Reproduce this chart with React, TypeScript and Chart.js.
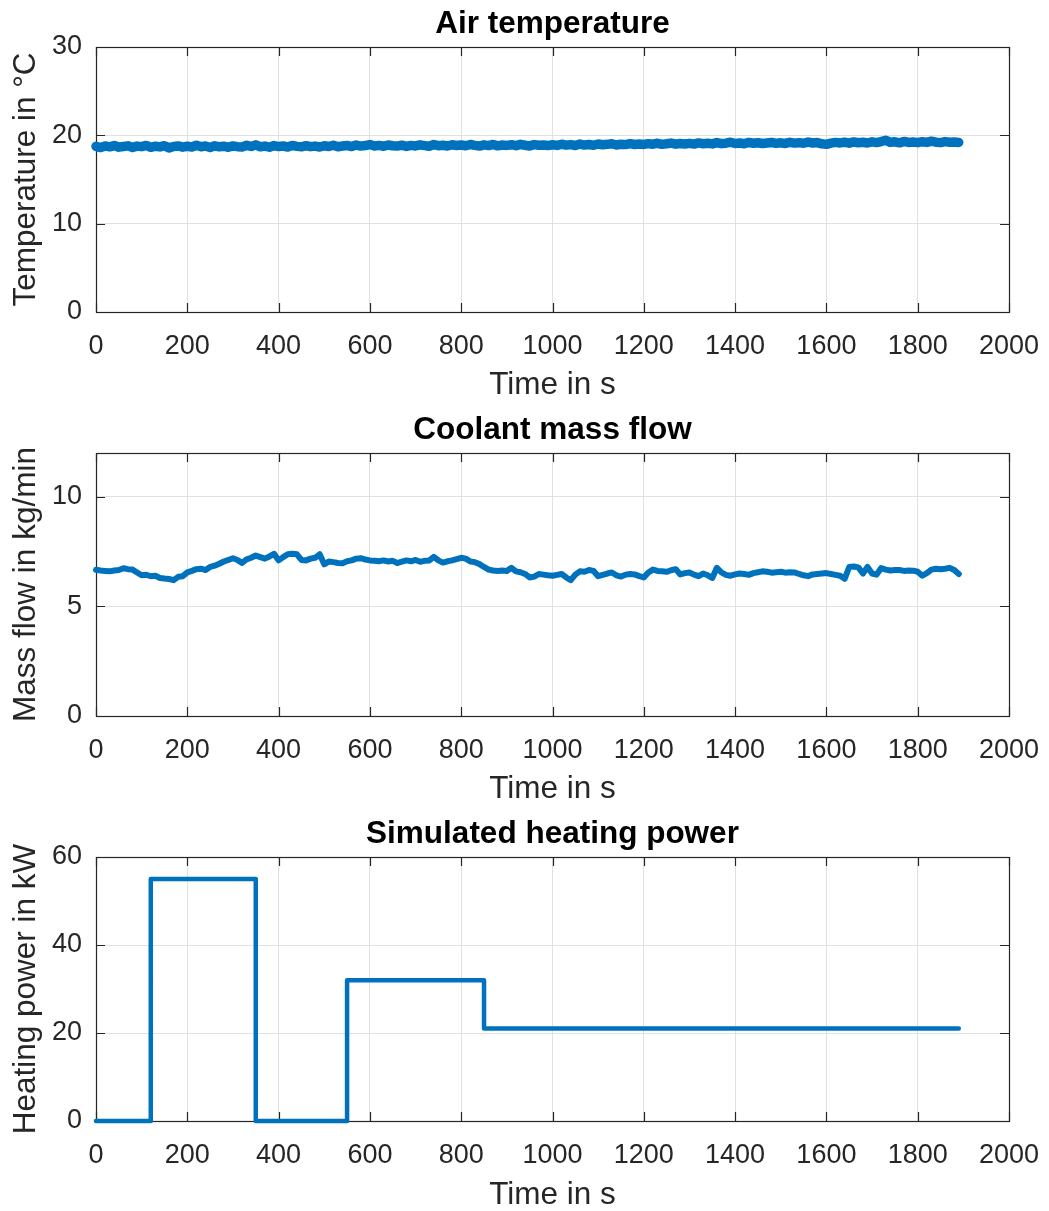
import React, { useEffect, useRef } from 'react';
import { Chart, registerables } from 'chart.js';

Chart.register(...registerables);

const FONT = '"Liberation Sans", Arial, Helvetica, sans-serif';
const INK = '#262626';
const GRID = '#e1e1e1';
const BLUE = '#0072BD';

// ---------- data ----------
const xTickValues = [0, 200, 400, 600, 800, 1000, 1200, 1400, 1600, 1800, 2000];
const tempTickValues = [0, 10, 20, 30];
const flowTickValues = [0, 5, 10];
const powerTickValues = [0, 20, 40, 60];

const sampleTimes = [
  0, 10, 20, 30, 40, 50, 60, 70, 80, 90,
  100, 110, 120, 130, 140, 150, 160, 170, 180, 190,
  200, 210, 220, 230, 240, 250, 260, 270, 280, 290,
  300, 310, 320, 330, 340, 350, 360, 370, 380, 390,
  400, 410, 420, 430, 440, 450, 460, 470, 480, 490,
  500, 510, 520, 530, 540, 550, 560, 570, 580, 590,
  600, 610, 620, 630, 640, 650, 660, 670, 680, 690,
  700, 710, 720, 730, 740, 750, 760, 770, 780, 790,
  800, 810, 820, 830, 840, 850, 860, 870, 880, 890,
  900, 910, 920, 930, 940, 950, 960, 970, 980, 990,
  1000, 1010, 1020, 1030, 1040, 1050, 1060, 1070, 1080, 1090,
  1100, 1110, 1120, 1130, 1140, 1150, 1160, 1170, 1180, 1190,
  1200, 1210, 1220, 1230, 1240, 1250, 1260, 1270, 1280, 1290,
  1300, 1310, 1320, 1330, 1340, 1350, 1360, 1370, 1380, 1390,
  1400, 1410, 1420, 1430, 1440, 1450, 1460, 1470, 1480, 1490,
  1500, 1510, 1520, 1530, 1540, 1550, 1560, 1570, 1580, 1590,
  1600, 1610, 1620, 1630, 1640, 1650, 1660, 1670, 1680, 1690,
  1700, 1710, 1720, 1730, 1740, 1750, 1760, 1770, 1780, 1790,
  1800, 1810, 1820, 1830, 1840, 1850, 1860, 1870, 1880, 1890,
];

const airTemperature = [
  18.75, 18.62, 18.80, 18.70, 18.85, 18.66, 18.74, 18.81, 18.63, 18.78,
  18.72, 18.86, 18.64, 18.77, 18.69, 18.83, 18.58, 18.74, 18.80, 18.66,
  18.76, 18.68, 18.88, 18.71, 18.79, 18.63, 18.82, 18.70, 18.77, 18.65,
  18.80, 18.72, 18.69, 18.87, 18.74, 18.92, 18.70, 18.78, 18.66, 18.84,
  18.73, 18.80, 18.67, 18.86, 18.75, 18.70, 18.83, 18.72, 18.78, 18.68,
  18.82, 18.74, 18.88, 18.71, 18.79, 18.85, 18.73, 18.90, 18.78, 18.84,
  18.96, 18.80, 18.86, 18.76, 18.91, 18.82, 18.78, 18.89, 18.75, 18.86,
  18.80, 18.92, 18.84, 18.77, 18.95, 18.83, 18.88, 18.79, 18.93, 18.85,
  18.90, 18.82, 18.96, 18.86, 18.78, 18.92, 18.84, 18.97, 18.81, 18.90,
  18.86, 18.94, 18.83, 18.98, 18.88, 18.80, 18.95, 18.87, 18.91, 18.84,
  18.93, 18.86, 18.99, 18.89, 18.95, 18.85, 19.01, 18.90, 18.96, 18.88,
  19.02, 18.93, 18.98, 19.05, 18.91, 19.00, 18.95, 19.07, 18.96, 19.01,
  18.97, 19.06, 19.00, 19.10, 18.98, 19.04, 19.12, 19.00, 19.07, 19.02,
  19.09, 19.01, 19.14, 19.05, 19.10, 19.03, 19.18, 19.06, 19.11, 19.22,
  19.08, 19.14, 19.05, 19.20, 19.10, 19.16, 19.07, 19.13, 19.19, 19.09,
  19.15, 19.08, 19.21, 19.12, 19.17, 19.10, 19.24, 19.13, 19.18, 19.04,
  18.98, 19.12, 19.20, 19.14, 19.22, 19.11, 19.25, 19.16, 19.21, 19.13,
  19.26, 19.18, 19.30, 19.45, 19.20, 19.27, 19.15, 19.31, 19.19, 19.24,
  19.17, 19.28, 19.20, 19.34, 19.22, 19.18, 19.29, 19.21, 19.25, 19.20,
];

const coolantMassFlow = [
  6.67, 6.64, 6.62, 6.60, 6.64, 6.66, 6.74, 6.70, 6.68, 6.55,
  6.42, 6.44, 6.38, 6.40, 6.30, 6.27, 6.25, 6.20, 6.35, 6.38,
  6.55, 6.62, 6.70, 6.72, 6.66, 6.80, 6.86, 6.95, 7.05, 7.12,
  7.20, 7.12, 6.98, 7.15, 7.22, 7.32, 7.25, 7.18, 7.28, 7.40,
  7.10, 7.25, 7.38, 7.40, 7.38, 7.12, 7.10, 7.18, 7.22, 7.38,
  6.92, 7.05, 7.02, 6.98, 6.97, 7.06, 7.10, 7.18, 7.20, 7.14,
  7.10, 7.08, 7.06, 7.10, 7.05, 7.08, 6.98, 7.04, 7.10, 7.06,
  7.12, 7.04, 7.08, 7.10, 7.26, 7.10, 7.00, 7.06, 7.10, 7.16,
  7.22, 7.18, 7.05, 7.02, 6.93, 6.80, 6.68, 6.64, 6.62, 6.64,
  6.62, 6.76, 6.60, 6.56, 6.48, 6.32, 6.36, 6.48, 6.45, 6.42,
  6.40, 6.44, 6.48, 6.32, 6.20, 6.45, 6.60, 6.58, 6.66, 6.62,
  6.38, 6.44, 6.50, 6.55, 6.42, 6.36, 6.45, 6.48, 6.46, 6.38,
  6.32, 6.55, 6.68, 6.62, 6.60, 6.58, 6.65, 6.70, 6.46, 6.52,
  6.55, 6.45, 6.38, 6.50, 6.42, 6.30, 6.76, 6.55, 6.44, 6.40,
  6.46, 6.50, 6.48, 6.44, 6.52, 6.56, 6.60, 6.58, 6.54, 6.56,
  6.58, 6.54, 6.56, 6.55, 6.48, 6.42, 6.38, 6.46, 6.48, 6.50,
  6.52, 6.48, 6.44, 6.40, 6.26, 6.80, 6.82, 6.78, 6.50, 6.80,
  6.50, 6.45, 6.75, 6.68, 6.64, 6.66, 6.66, 6.62, 6.64, 6.63,
  6.58, 6.40, 6.52, 6.68, 6.72, 6.70, 6.72, 6.76, 6.66, 6.48,
];

const powerTimes = [0, 120, 120, 350, 350, 550, 550, 850, 850, 1890];
const heatingPower = [0, 0, 55, 55, 0, 0, 32, 32, 21, 21];

// ---------- MATLAB-like box with inward ticks ----------
const matlabAxes = {
  id: 'matlabAxes',
  beforeDatasetsDraw(chart: any) {
    const { ctx, chartArea, scales } = chart;
    const { left, right, top, bottom } = chartArea;
    const xs = scales.x;
    const ys = scales.y;
    const L = 9;
    ctx.save();
    ctx.strokeStyle = INK;
    ctx.lineWidth = 1.2;
    ctx.beginPath();
    xs.ticks.forEach((t: any) => {
      const px = Math.round(xs.getPixelForValue(t.value)) + 0.5;
      ctx.moveTo(px, bottom);
      ctx.lineTo(px, bottom - L);
      ctx.moveTo(px, top);
      ctx.lineTo(px, top + L);
    });
    ys.ticks.forEach((t: any) => {
      const py = Math.round(ys.getPixelForValue(t.value)) + 0.5;
      ctx.moveTo(left, py);
      ctx.lineTo(left + L, py);
      ctx.moveTo(right, py);
      ctx.lineTo(right - L, py);
    });
    ctx.stroke();
    ctx.strokeRect(Math.round(left) + 0.5, Math.round(top) + 0.5, Math.round(right - left), Math.round(bottom - top));
    ctx.restore();
  },
};

type PlotSpec = {
  title: string;
  yLabel: string;
  xs: number[];
  ys: number[];
  yMin: number;
  yMax: number;
  yTicks: number[];
  lineWidth: number;
  height: number;
  titlePadTop: number;
  titlePadBottom: number;
  xAxisHeight: number;
  xTitlePadBottom: number;
};

const TITLE_SIZE = 31.5;
const LABEL_SIZE = 31.5;
const TICK_SIZE = 27;

function makeConfig(p: PlotSpec): any {
  return {
    type: 'line',
    data: {
      datasets: [
        {
          data: p.xs.map((x, i) => ({ x, y: p.ys[i] })),
          borderColor: BLUE,
          backgroundColor: BLUE,
          borderWidth: p.lineWidth,
          pointRadius: 0,
          fill: false,
          tension: 0,
          clip: false,
          borderCapStyle: 'round',
          borderJoinStyle: 'round',
        },
      ],
    },
    options: {
      animation: false,
      responsive: false,
      maintainAspectRatio: false,
      events: [],
      layout: { padding: { left: 0, right: 40, top: 0, bottom: 0 } },
      plugins: {
        legend: { display: false },
        tooltip: { enabled: false },
        title: {
          display: true,
          text: p.title,
          fullSize: false,
          color: '#000000',
          font: { family: FONT, size: TITLE_SIZE, weight: 'bold', lineHeight: 1.2 },
          padding: { top: p.titlePadTop, bottom: p.titlePadBottom },
        },
      },
      scales: {
        x: {
          type: 'linear',
          min: 0,
          max: 2000,
          afterBuildTicks: (s: any) => {
            s.ticks = xTickValues.map((v) => ({ value: v }));
          },
          afterFit: (s: any) => {
            s.height = p.xAxisHeight;
            s.paddingLeft = 0;
            s.paddingRight = 30;
          },
          grid: { color: GRID, lineWidth: 1, drawTicks: false },
          border: { display: false },
          ticks: {
            color: INK,
            font: { family: FONT, size: TICK_SIZE, lineHeight: 1.2 },
            padding: 18,
            maxRotation: 0,
            autoSkip: false,
            callback: (v: any) => String(v),
          },
          title: {
            display: true,
            text: 'Time in s',
            color: INK,
            font: { family: FONT, size: LABEL_SIZE, lineHeight: 1.2 },
            padding: { top: 0, bottom: p.xTitlePadBottom },
          },
        },
        y: {
          type: 'linear',
          min: p.yMin,
          max: p.yMax,
          afterBuildTicks: (s: any) => {
            s.ticks = p.yTicks.map((v) => ({ value: v }));
          },
          afterFit: (s: any) => {
            s.width = 96;
          },
          grid: { color: GRID, lineWidth: 1, drawTicks: false },
          border: { display: false },
          ticks: {
            color: INK,
            font: { family: FONT, size: TICK_SIZE, lineHeight: 1.2 },
            padding: 14,
            autoSkip: false,
            callback: (v: any) => String(v),
          },
          title: {
            display: true,
            text: p.yLabel,
            color: INK,
            font: { family: FONT, size: LABEL_SIZE, lineHeight: 1.2 },
            padding: { top: 7, bottom: 0 },
          },
        },
      },
    },
    plugins: [matlabAxes],
  };
}

function Subplot({ spec, top }: { spec: PlotSpec; top: number }) {
  const ref = useRef<HTMLCanvasElement | null>(null);
  useEffect(() => {
    if (!ref.current) return;
    const chart = new Chart(ref.current, makeConfig(spec));
    return () => chart.destroy();
  }, [spec]);
  return (
    <canvas
      ref={ref}
      width={1049}
      height={spec.height}
      style={{ position: 'absolute', left: 0, top, width: 1049, height: spec.height, display: 'block' }}
    />
  );
}

const specs: PlotSpec[] = [
  {
    title: 'Air temperature',
    yLabel: 'Temperature in °C',
    xs: sampleTimes,
    ys: airTemperature,
    yMin: 0,
    yMax: 30,
    yTicks: tempTickValues,
    lineWidth: 9.5,
    height: 405,
    titlePadTop: 5.5,
    titlePadBottom: 3.7,
    xAxisHeight: 93,
    xTitlePadBottom: 1,
  },
  {
    title: 'Coolant mass flow',
    yLabel: 'Mass flow in kg/min',
    xs: sampleTimes,
    ys: coolantMassFlow,
    yMin: 0,
    yMax: 12,
    yTicks: flowTickValues,
    lineWidth: 6,
    height: 405,
    titlePadTop: 7,
    titlePadBottom: 4.2,
    xAxisHeight: 93,
    xTitlePadBottom: 1,
  },
  {
    title: 'Simulated heating power',
    yLabel: 'Heating power in kW',
    xs: powerTimes,
    ys: heatingPower,
    yMin: 0,
    yMax: 60,
    yTicks: powerTickValues,
    lineWidth: 4.5,
    height: 405,
    titlePadTop: 6.5,
    titlePadBottom: 3.7,
    xAxisHeight: 93,
    xTitlePadBottom: 0,
  },
];

const tops = [0, 404, 809];

export default function App() {
  return (
    <div style={{ position: 'absolute', left: 0, top: 0, width: 1049, height: 1211, background: '#ffffff', overflow: 'hidden' }}>
      {specs.map((s, i) => (
        <Subplot key={i} spec={s} top={tops[i]} />
      ))}
    </div>
  );
}
